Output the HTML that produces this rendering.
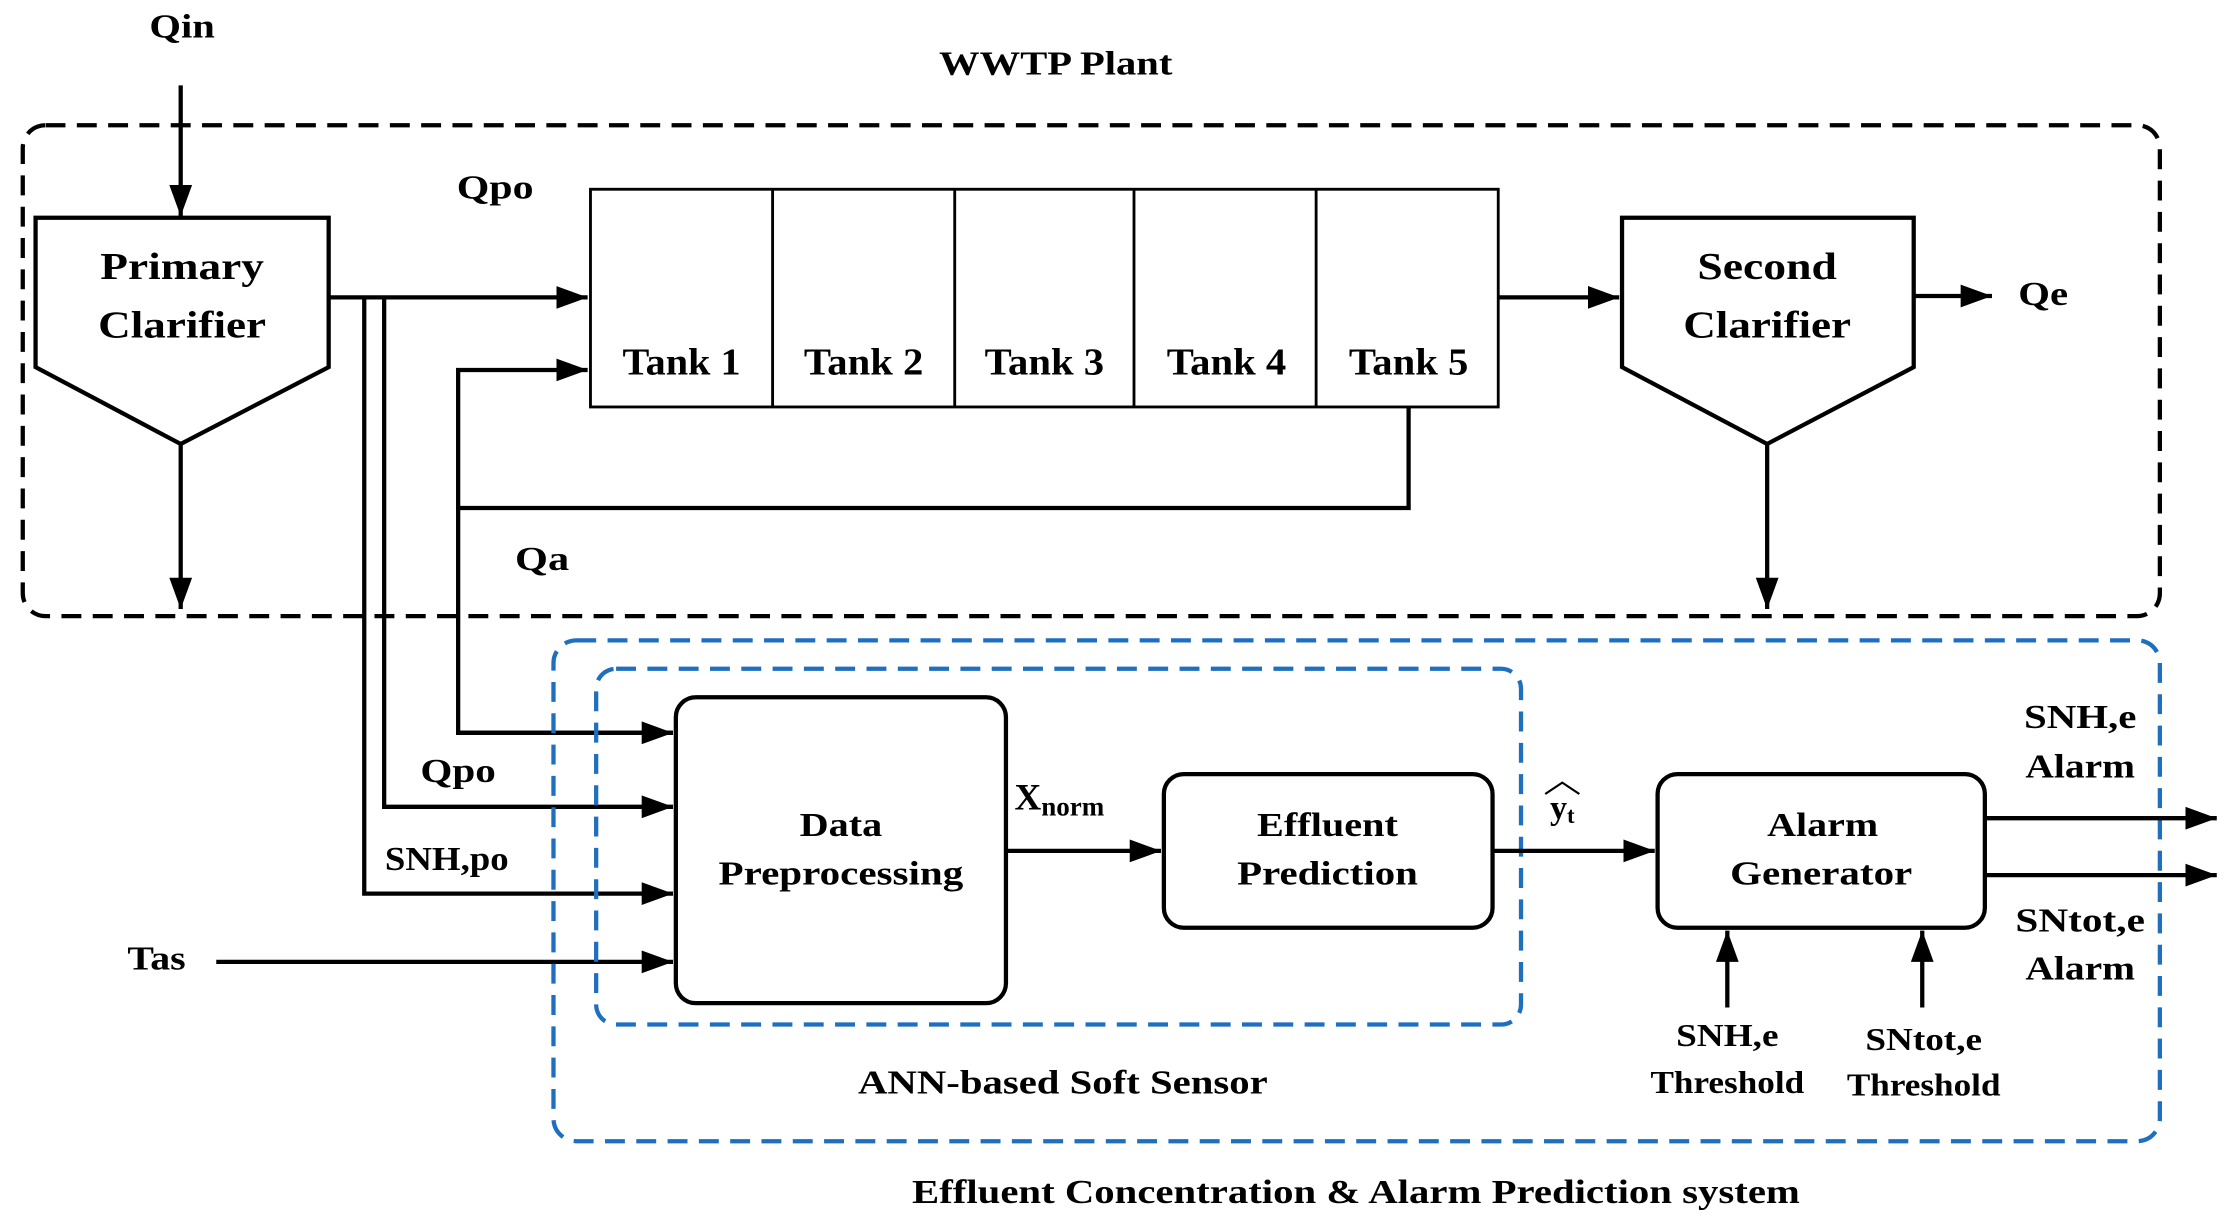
<!DOCTYPE html>
<html><head><meta charset="utf-8"><style>
html,body{margin:0;padding:0;background:#fff;}
svg{display:block;}
text{font-family:"Liberation Serif",serif;font-weight:bold;fill:#000;text-anchor:middle;dominant-baseline:middle;}
</style></head><body>
<svg width="2231" height="1228" viewBox="0 0 1568 863" preserveAspectRatio="none" xmlns="http://www.w3.org/2000/svg">
<defs>
<marker id="b" markerWidth="22" markerHeight="16" refX="22" refY="8" orient="auto" markerUnits="userSpaceOnUse">
<path d="M0,0 L22,8 L0,16 z" fill="#000"/></marker>
</defs>
<rect x="16" y="88" width="1502" height="345" rx="16" fill="none" stroke="#000" stroke-width="3" stroke-dasharray="14,8"/>
<g stroke="#000" stroke-width="3" fill="none">
<line x1="127" y1="60" x2="127" y2="152" marker-end="url(#b)"/>
<polygon points="25,153 231,153 231,258 127,312 25,258" fill="#fff"/>
<line x1="127" y1="312" x2="127" y2="428" marker-end="url(#b)"/>
<rect x="415" y="133" width="638" height="153" stroke-width="2"/>
<line x1="543" y1="133" x2="543" y2="286" stroke-width="2"/>
<line x1="671" y1="133" x2="671" y2="286" stroke-width="2"/>
<line x1="797" y1="133" x2="797" y2="286" stroke-width="2"/>
<line x1="925" y1="133" x2="925" y2="286" stroke-width="2"/>
<line x1="231" y1="209" x2="413" y2="209" marker-end="url(#b)"/>
<polyline points="473,515 322,515 322,260 413,260" marker-end="url(#b)"/>
<polyline points="990,286 990,357 322,357"/>
<polyline points="256,209 256,628 473,628" marker-end="url(#b)"/>
<polyline points="270,209 270,567 473,567" marker-end="url(#b)"/>
<line x1="152" y1="676" x2="473" y2="676" marker-end="url(#b)"/>
<line x1="322" y1="515" x2="473" y2="515" marker-end="url(#b)"/>
<line x1="1053" y1="209" x2="1138" y2="209" marker-end="url(#b)"/>
<polygon points="1140,153 1345,153 1345,258 1242,312 1140,258" fill="#fff"/>
<line x1="1345" y1="208" x2="1400" y2="208" marker-end="url(#b)"/>
<line x1="1242" y1="312" x2="1242" y2="428" marker-end="url(#b)"/>
</g>
<rect x="389" y="450" width="1129" height="352" rx="16" fill="none" stroke="#1f6fbf" stroke-width="3" stroke-dasharray="14,8"/>
<rect x="419" y="470" width="650" height="250" rx="14" fill="none" stroke="#1f6fbf" stroke-width="3" stroke-dasharray="14,8"/>
<g stroke="#000" stroke-width="3" fill="none">
<rect x="475" y="490" width="232" height="215" rx="14" fill="#fff"/>
<rect x="818" y="544" width="231" height="108" rx="14" fill="#fff"/>
<rect x="1165" y="544" width="230" height="108" rx="14" fill="#fff"/>
<line x1="707" y1="598" x2="816" y2="598" marker-end="url(#b)"/>
<line x1="1049" y1="598" x2="1163" y2="598" marker-end="url(#b)"/>
<line x1="1395" y1="575" x2="1558" y2="575" marker-end="url(#b)"/>
<line x1="1395" y1="615" x2="1558" y2="615" marker-end="url(#b)"/>
<line x1="1214" y1="708" x2="1214" y2="654" marker-end="url(#b)"/>
<line x1="1351" y1="708" x2="1351" y2="654" marker-end="url(#b)"/>
</g>
<g font-size="27" lengthAdjust="spacingAndGlyphs">
<text x="128" y="190" textLength="115" lengthAdjust="spacingAndGlyphs">Primary</text>
<text x="128" y="231" textLength="118" lengthAdjust="spacingAndGlyphs">Clarifier</text>
<text x="1242" y="190" textLength="98" lengthAdjust="spacingAndGlyphs">Second</text>
<text x="1242" y="231" textLength="118" lengthAdjust="spacingAndGlyphs">Clarifier</text>
<text x="479" y="257" textLength="83" lengthAdjust="spacingAndGlyphs">Tank 1</text>
<text x="607" y="257" textLength="84" lengthAdjust="spacingAndGlyphs">Tank 2</text>
<text x="734" y="257" textLength="84" lengthAdjust="spacingAndGlyphs">Tank 3</text>
<text x="862" y="257" textLength="84" lengthAdjust="spacingAndGlyphs">Tank 4</text>
<text x="990" y="257" textLength="84" lengthAdjust="spacingAndGlyphs">Tank 5</text>
</g>
<g font-size="24">
<text x="128" y="21" textLength="46" lengthAdjust="spacingAndGlyphs">Qin</text>
<text x="742" y="47" textLength="164" lengthAdjust="spacingAndGlyphs">WWTP Plant</text>
<text x="348" y="134" textLength="54" lengthAdjust="spacingAndGlyphs">Qpo</text>
<text x="381" y="395" textLength="38" lengthAdjust="spacingAndGlyphs">Qa</text>
<text x="1436" y="209" textLength="35" lengthAdjust="spacingAndGlyphs">Qe</text>
<text x="322" y="544" textLength="53" lengthAdjust="spacingAndGlyphs">Qpo</text>
<text x="314" y="606" textLength="87" lengthAdjust="spacingAndGlyphs">SNH,po</text>
<text x="110" y="676" textLength="41" lengthAdjust="spacingAndGlyphs">Tas</text>
<text x="591" y="582" textLength="58" lengthAdjust="spacingAndGlyphs">Data</text>
<text x="591" y="616" textLength="172" lengthAdjust="spacingAndGlyphs">Preprocessing</text>
<text x="933" y="582" textLength="99" lengthAdjust="spacingAndGlyphs">Effluent</text>
<text x="933" y="616" textLength="127" lengthAdjust="spacingAndGlyphs">Prediction</text>
<text x="1281" y="582" textLength="78" lengthAdjust="spacingAndGlyphs">Alarm</text>
<text x="1280" y="616" textLength="128" lengthAdjust="spacingAndGlyphs">Generator</text>
<text x="713" y="563" style="text-anchor:start" font-size="26">X<tspan font-size="19" dy="6">norm</tspan></text>
<text x="1098" y="570">y<tspan font-size="16" dy="5">t</tspan></text>
<text x="1462" y="506" textLength="79" lengthAdjust="spacingAndGlyphs">SNH,e</text>
<text x="1462" y="541" textLength="77" lengthAdjust="spacingAndGlyphs">Alarm</text>
<text x="1462" y="649" textLength="91" lengthAdjust="spacingAndGlyphs">SNtot,e</text>
<text x="1462" y="683" textLength="77" lengthAdjust="spacingAndGlyphs">Alarm</text>
<text x="1214" y="730" font-size="22" textLength="72" lengthAdjust="spacingAndGlyphs">SNH,e</text>
<text x="1214" y="763" font-size="22" textLength="108" lengthAdjust="spacingAndGlyphs">Threshold</text>
<text x="1352" y="733" font-size="22" textLength="82" lengthAdjust="spacingAndGlyphs">SNtot,e</text>
<text x="1352" y="765" font-size="22" textLength="108" lengthAdjust="spacingAndGlyphs">Threshold</text>
<text x="747" y="763" textLength="288" lengthAdjust="spacingAndGlyphs">ANN-based Soft Sensor</text>
<text x="953" y="840" textLength="624" lengthAdjust="spacingAndGlyphs">Effluent Concentration &amp; Alarm Prediction system</text>
</g>
<path d="M1086,558 L1098,550 L1110,558" fill="none" stroke="#000" stroke-width="1.5"/>
</svg>
</body></html>
